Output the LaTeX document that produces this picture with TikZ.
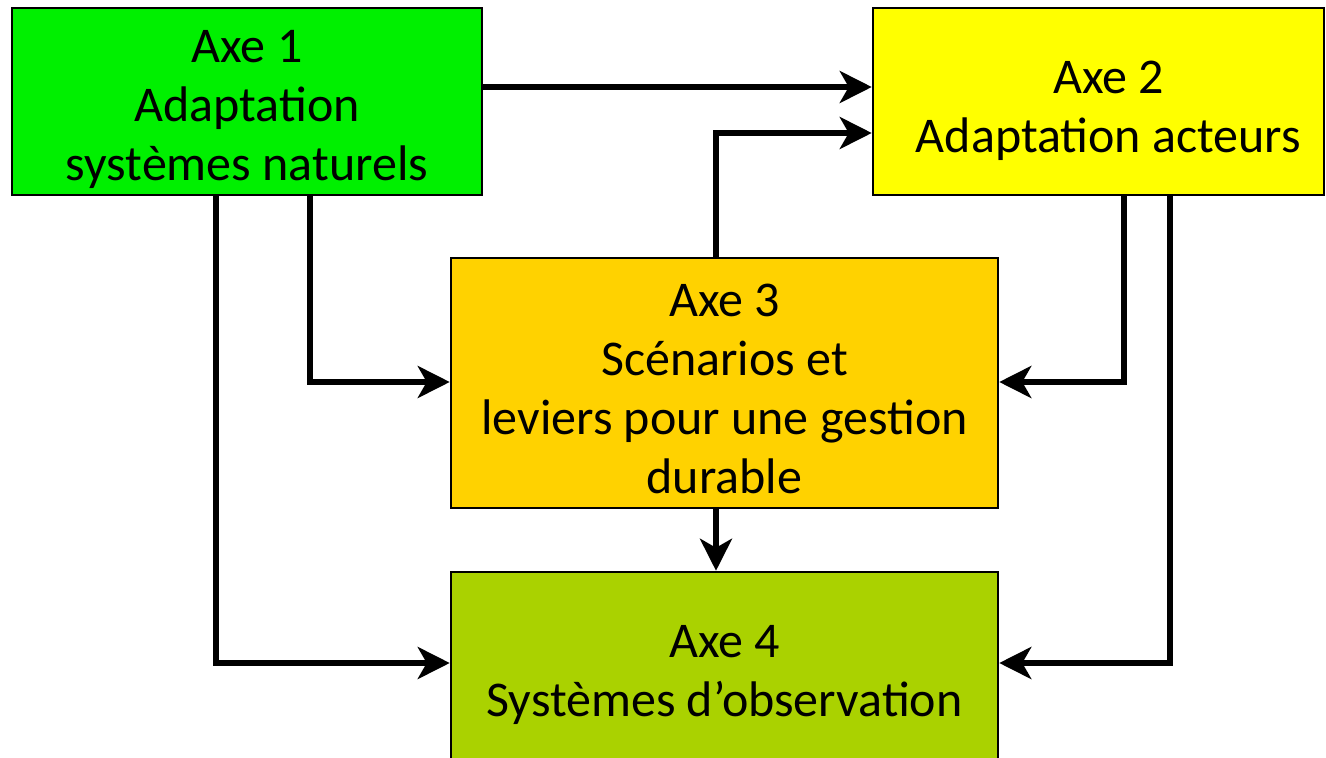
\documentclass[tikz,border=0pt]{standalone}
\usepackage{fontspec}
\setmainfont{Carlito}
\usetikzlibrary{arrows.meta,calc}
\definecolor{cA}{RGB}{0,240,0}
\definecolor{cB}{RGB}{255,255,0}
\definecolor{cC}{RGB}{255,210,0}
\definecolor{cD}{RGB}{170,210,0}
\tikzset{
  box/.style={draw=black, line width=2.5pt, rectangle, inner sep=0pt},
  txt/.style={align=center, inner sep=0pt, font=\fontsize{50}{59}\selectfont},
  arr/.style={line width=5.5pt, -{Stealth[length=32pt,width=32pt,inset=9pt]}}
}
\begin{document}
\begin{tikzpicture}[x=1pt,y=-1pt]
\useasboundingbox (0,0) rectangle (1326,758);
\clip (0,0) rectangle (1326,758);
\node[box, fill=cA, minimum width=470pt, minimum height=187pt] (a) at (247,101.5) {};
\node[box, fill=cB, minimum width=451pt, minimum height=187pt] (b) at (1098.5,101.5) {};
\node[box, fill=cC, minimum width=547pt, minimum height=250pt] (c) at (724.5,383) {};
\node[box, fill=cD, minimum width=547pt, minimum height=196pt] (d) at (724.5,670) {};
\node[txt] (ta) at ($(a.center)+(0,8)$) {Axe 1\\Adaptation\\systèmes naturels};
\node[txt] (tb) at ($(b.center)+(10,9)$) {Axe 2\\Adaptation acteurs};
\node[txt] (tc) at ($(c.center)+(0,5.5)$) {Axe 3\\Scénarios et\\leviers pour une gestion\\durable};
\node[txt] (td) at ($(d.center)+(0,4.5)$) {Axe 4\\Systèmes d’observation};
\coordinate (a1) at (216,195);
\coordinate (a2) at (310,195);
\coordinate (b1) at (1124,195);
\coordinate (b2) at (1170,195);
\coordinate (c1) at (716,258);
\draw[arr] (a.east |- 0,87) -- (b.west |- 0,87);
\draw[arr] (c1) |- (b.west |- 0,133);
\draw[arr] (a2) |- (c.west |- 0,382);
\draw[arr] (a1) |- (d.west |- 0,663);
\draw[arr] (b1) |- (c.east |- 0,382);
\draw[arr] (b2) |- (d.east |- 0,663);
\draw[arr] (c.south -| 716,0) -- (d.north -| 716,0);
\end{tikzpicture}
\end{document}
